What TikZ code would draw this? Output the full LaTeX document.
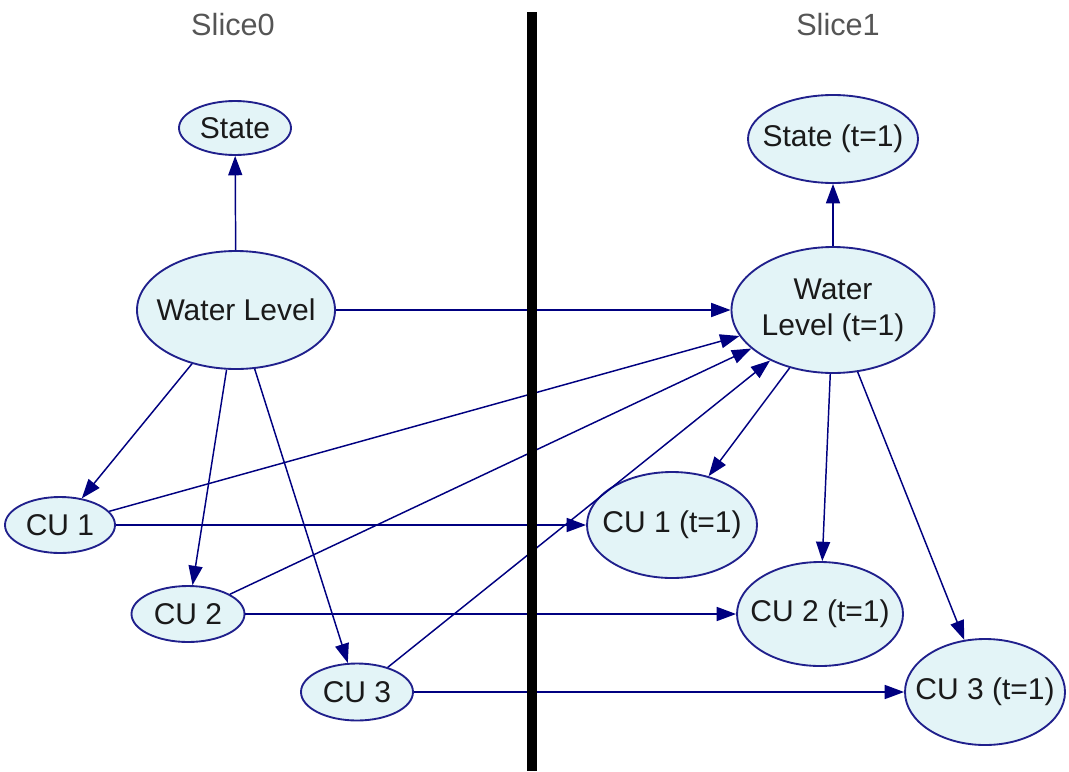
\documentclass[tikz,border=0pt]{standalone}
\usepackage{fontspec}
\setmainfont{Liberation Sans}
\usetikzlibrary{shapes.geometric,arrows.meta}
\definecolor{nodefill}{HTML}{E3F4F7}
\definecolor{nodeline}{HTML}{20208C}
\definecolor{edgecol}{HTML}{000080}
\definecolor{slicegray}{HTML}{555555}
\definecolor{textcol}{HTML}{1A1A1A}
\tikzset{
  % the ellipse keeps its given size; its caption is set as a centred label
  var/.style={ellipse, draw=nodeline, fill=nodefill, line width=1.4pt,
    inner sep=0pt, label={[varcaption]center:#1}},
  varcaption/.style={text=textcol, align=center, inner sep=0pt,
    font=\fontsize{22.5}{27}\selectfont},
  % ellipse size given in picture units (0.75pt each)
  sz/.style 2 args={minimum width=#1*0.75pt, minimum height=#2*0.75pt},
  link/.style={draw=edgecol, line width=1.1pt,
    -{Triangle[length=14.5pt,width=10.5pt]}},
  slicelabel/.style={text=slicegray, font=\fontsize{23}{27}\selectfont},
  divider/.style={line width=6.9pt, black}
}
\begin{document}
\begin{tikzpicture}[x=0.75pt,y=-0.75pt]
  \useasboundingbox (0,0) rectangle (1069,771);

  % slice headers
  \node[slicelabel] (s0) at (233,25) {Slice0};
  \node[slicelabel] (s1) at (838,25) {Slice1};

  % slice 0
  \node[var={State}, sz={112}{54}] (st0) at (235,128) {};
  \node[var={Water Level}, sz={198}{118}] (wl0) at (236,310) {};
  \node[var={CU 1}, sz={110}{56}] (cu10) at (60,525) {};
  \node[var={CU 2}, sz={113}{56}] (cu20) at (188,614) {};
  \node[var={CU 3}, sz={112}{57}] (cu30) at (357,692) {};

  % slice 1
  \node[var={State (t=1)}, sz={170}{88}] (st1) at (833,139) {};
  \node[var={Water\\Level (t=1)}, sz={203}{126}] (wl1) at (833,310) {};
  \node[var={CU 1 (t=1)}, sz={170}{106}] (cu11) at (672,525) {};
  \node[var={CU 2 (t=1)}, sz={166}{104}] (cu21) at (820,614) {};
  \node[var={CU 3 (t=1)}, sz={160}{106}] (cu31) at (985,692) {};

  % intra-slice dependencies
  \draw[link] (wl0) -- (st0);
  \draw[link] (wl0) -- (cu10);
  \draw[link] (wl0) -- (cu20);
  \draw[link] (wl0) -- (cu30);
  \draw[link] (wl1) -- (st1);
  \draw[link] (wl1) -- (cu11);
  \draw[link] (wl1) -- (cu21);
  \draw[link] (wl1) -- (cu31);

  % inter-slice dependencies
  \draw[link] (wl0) -- (wl1);
  \draw[link] (cu10) -- (wl1);
  \draw[link] (cu20) -- (wl1);
  \draw[link] (cu30) -- (wl1);
  \draw[link] (cu10) -- (cu11);
  \draw[link] (cu20) -- (cu21);
  \draw[link] (cu30) -- (cu31);

  % slice divider
  \coordinate (divtop) at (532,12);
  \coordinate (divbot) at (532,771);
  \draw[divider] (divtop) -- (divbot);
\end{tikzpicture}
\end{document}
